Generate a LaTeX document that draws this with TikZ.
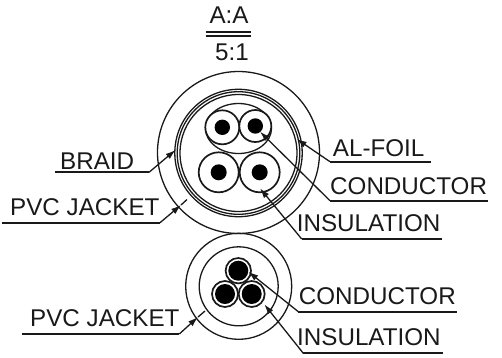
\documentclass[tikz,border=0pt]{standalone}
\usepackage{fontspec}
\setmainfont{Liberation Sans}
\usetikzlibrary{arrows.meta}
\tikzset{
  lbl/.style={inner sep=0pt,anchor=base west,font=\fontsize{24.2}{26}\selectfont,text=black!90},
  ttl/.style={inner sep=0pt,anchor=base,font=\fontsize{24.2}{26}\selectfont,text=black!90},
  ring/.style={draw=black!90,line width=1.3pt},
  sheath/.style={draw=black!90,line width=1.7pt,fill=white},
  core/.style={fill=black},
  leader/.style={draw=black!90,line width=1.3pt},
  under/.style={draw=black!90,line width=1.9pt},
  tip/.style={-{Latex[length=10pt,width=6.5pt]},draw=black!90,line width=1.3pt}
}
\begin{document}
\begin{tikzpicture}[x=1pt,y=-1pt]
\useasboundingbox (0,0) rectangle (502,357);
% titles
\node[ttl] (t1) at (229,23.3) {A:A};
\node[ttl] (t2) at (232,60.7) {5:1};
\coordinate (r1a) at (205.7,32); \coordinate (r1b) at (250.7,32);
\coordinate (r2a) at (205.7,36); \coordinate (r2b) at (250.7,36);
\draw[under,line width=1.4pt] (r1a) -- (r1b);
\draw[under,line width=1.4pt] (r2a) -- (r2b);
% upper cable
\draw[ring] (238.5,152.5) circle (81);
\draw[ring] (238.5,153) circle (63.7);
\draw[ring] (238.5,153) circle (61.3);
\draw[ring] (238.5,153) circle (58.5);
\draw[ring] (238.5,128.5) ellipse (33 and 25);
\draw[sheath] (222.3,127.3) circle (17);
\draw[sheath] (255.3,126) circle (16);
\draw[sheath] (218.7,172.3) circle (20);
\draw[sheath] (259.7,172.3) circle (20);
\fill[core] (222.3,127.3) circle (7.7);
\fill[core] (255.3,126) circle (7.7);
\fill[core] (218.7,172.3) circle (8);
\fill[core] (259.7,172.3) circle (8);
% lower cable
\draw[ring] (238.7,286.3) circle (53);
\draw[ring] (238.7,286.3) circle (39.5);
\draw[sheath] (238.3,270.7) circle (12.7);
\draw[sheath] (225,294) circle (13);
\draw[sheath] (251.7,294) circle (13);
\fill[core] (238.3,270.7) circle (10);
\fill[core] (225,294) circle (10);
\fill[core] (251.7,294) circle (10);
% labels
\node[lbl] (braid) at (60,169.3) {BRAID};
\node[lbl] (pvca) at (10,215) {PVC JACKET};
\node[lbl] (pvcb) at (30,326.7) {PVC JACKET};
\node[lbl] (foil) at (332.7,156) {AL-FOIL};
\node[lbl] (conda) at (330,194) {CONDUCTOR};
\node[lbl] (insa) at (296.7,231.7) {INSULATION};
\node[lbl] (condb) at (298.7,304.3) {CONDUCTOR};
\node[lbl] (insb) at (297,345) {INSULATION};
% leader coordinates
\coordinate (bs) at (55,172.3); \coordinate (bk) at (149,172.3); \coordinate (bt) at (175.5,150);
\coordinate (ps) at (2.3,222.7); \coordinate (pk) at (160,222.7); \coordinate (pm) at (181,205); \coordinate (pe) at (187,199.5);
\coordinate (qs) at (22.3,334); \coordinate (qk) at (179.3,334); \coordinate (qm) at (198,317); \coordinate (qe) at (205,311);
\coordinate (fs) at (430.7,161.7); \coordinate (fk) at (330,161.7); \coordinate (ft) at (296.7,139);
\coordinate (cs) at (488,200.7); \coordinate (ck) at (330,200.7); \coordinate (ct) at (260,131.7);
\coordinate (is) at (441.7,239); \coordinate (ik) at (301.7,239); \coordinate (it) at (260,188.3);
\coordinate (ds) at (456.7,311.7); \coordinate (dk) at (298.3,311.7); \coordinate (dt) at (248.3,271.7);
\coordinate (js) at (442.7,353.3); \coordinate (jk) at (303.3,353.3); \coordinate (jt) at (264.3,304.3);
% underlines
\foreach \a/\b in {bs/bk,ps/pk,qs/qk,fs/fk,cs/ck,is/ik,ds/dk,js/jk}{\draw[under] (\a) -- (\b);}
% leaders
\draw[tip] (bk) -- (bt);
\draw[tip] (pk) -- (pm); \draw[leader] (pm) -- (pe);
\draw[tip] (qk) -- (qm); \draw[leader] (qm) -- (qe);
\draw[tip] (fk) -- (ft);
\draw[tip] (ck) -- (ct);
\draw[tip] (ik) -- (it);
\draw[tip] (dk) -- (dt);
\draw[tip] (jk) -- (jt);
\end{tikzpicture}
\end{document}
